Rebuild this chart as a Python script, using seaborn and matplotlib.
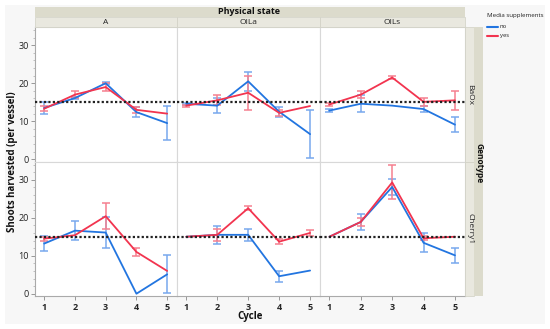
import matplotlib
matplotlib.use("Agg")
import matplotlib.pyplot as plt
from matplotlib.patches import Rectangle
from matplotlib.lines import Line2D
from matplotlib.ticker import MultipleLocator
import seaborn as sns
import pandas as pd
import numpy as np

sns.set_style("white")
plt.rcParams['font.family'] = ['Open Sans', 'DejaVu Sans']

cycles = [1, 2, 3, 4, 5]
states = ["A", "OILa", "OILs"]
genotypes = ["BaOx", "Cherry1"]
supplements = ["no", "yes"]
ref_value = 15

# BaOx
baox_A_no = [13.5, 16.1, 20.0, 12.4, 9.5]
baox_A_no_err = [1.5, 0.3, 0.3, 1.4, 4.5]
baox_A_yes = [13.3, 17.0, 19.0, 13.0, 12.0]
baox_A_yes_err = [0.6, 1.0, 1.0, 0.8, 0]
baox_OILa_no = [14.6, 14.1, 20.5, 12.5, 6.6]
baox_OILa_no_err = [0.3, 2.0, 2.5, 1.3, 6.4]
baox_OILa_yes = [14.1, 15.5, 17.5, 12.2, 14.0]
baox_OILa_yes_err = [0.3, 1.3, 4.5, 0.8, 0]
baox_OILs_no = [12.8, 14.6, 14.1, 13.2, 9.1]
baox_OILs_no_err = [0.5, 2.3, 0, 0.8, 2.0]
baox_OILs_yes = [14.4, 17.0, 21.5, 15.1, 15.5]
baox_OILs_yes_err = [0.5, 1.0, 0.5, 1.0, 2.5]
# Cherry1
cherry_A_no = [13.2, 16.6, 16.1, 0.0, 5.1]
cherry_A_no_err = [2.0, 2.5, 4.0, 0, 5.0]
cherry_A_yes = [14.5, 15.4, 20.4, 11.0, 6.0]
cherry_A_yes_err = [0.5, 0, 3.4, 1.0, 0]
cherry_OILa_no = [15.0, 15.5, 15.5, 4.6, 6.1]
cherry_OILa_no_err = [0, 2.4, 1.5, 1.5, 0]
cherry_OILa_yes = [15.0, 15.5, 22.5, 13.7, 16.0]
cherry_OILa_yes_err = [0, 1.5, 0.5, 0.7, 0.8]
cherry_OILs_no = [15.0, 18.9, 28.1, 13.4, 10.1]
cherry_OILs_no_err = [0, 2.1, 2.0, 2.5, 2.0]
cherry_OILs_yes = [15.0, 18.9, 29.3, 14.6, 15.0]
cherry_OILs_yes_err = [0, 1.0, 4.5, 0.5, 0]

series = {
    ("BaOx", "A", "no"): (baox_A_no, baox_A_no_err),
    ("BaOx", "A", "yes"): (baox_A_yes, baox_A_yes_err),
    ("BaOx", "OILa", "no"): (baox_OILa_no, baox_OILa_no_err),
    ("BaOx", "OILa", "yes"): (baox_OILa_yes, baox_OILa_yes_err),
    ("BaOx", "OILs", "no"): (baox_OILs_no, baox_OILs_no_err),
    ("BaOx", "OILs", "yes"): (baox_OILs_yes, baox_OILs_yes_err),
    ("Cherry1", "A", "no"): (cherry_A_no, cherry_A_no_err),
    ("Cherry1", "A", "yes"): (cherry_A_yes, cherry_A_yes_err),
    ("Cherry1", "OILa", "no"): (cherry_OILa_no, cherry_OILa_no_err),
    ("Cherry1", "OILa", "yes"): (cherry_OILa_yes, cherry_OILa_yes_err),
    ("Cherry1", "OILs", "no"): (cherry_OILs_no, cherry_OILs_no_err),
    ("Cherry1", "OILs", "yes"): (cherry_OILs_yes, cherry_OILs_yes_err),
}

rows = []
for (g, s, m), (vals, errs) in series.items():
    for c, v, e in zip(cycles, vals, errs):
        rows.append(dict(Genotype=g, State=s, Media=m, Cycle=c, Value=v, Err=e))
df = pd.DataFrame(rows)

line_col = {"no": "#2275e0", "yes": "#f2344f"}
err_col = {"no": "#78a8ee", "yes": "#f5808f"}

W, H = 550, 329
fig = plt.figure(figsize=(W / 100, H / 100), dpi=100)
fig.patch.set_facecolor("white")

def fx(x): return x / W
def fy(y): return 1 - y / H

# gray background
fig.patches.append(Rectangle((fx(5), fy(324)), fx(540), (319) / H,
                             transform=fig.transFigure, facecolor="#f7f7f7",
                             edgecolor="none", zorder=-10))

xl = [35, 177, 320, 465]
yt = [27, 161.5, 296]
ylim = (-0.6, 34.8)
xlim = (0.7, 5.32)
grid_c = "#d8d8d8"

for ri, g in enumerate(genotypes):
    for ci, s in enumerate(states):
        ax = fig.add_axes([fx(xl[ci]), fy(yt[ri + 1]), fx(xl[ci + 1] - xl[ci]),
                           (yt[ri + 1] - yt[ri]) / H])
        ax.set_facecolor("white")
        sub = df[(df.Genotype == g) & (df.State == s)]
        sns.lineplot(data=sub, x="Cycle", y="Value", hue="Media",
                     hue_order=supplements, palette=line_col, ax=ax,
                     linewidth=1.3, errorbar=None, legend=False, zorder=3)
        for m in supplements:
            d = sub[(sub.Media == m) & (sub.Err > 0)]
            ax.errorbar(d.Cycle, d.Value, yerr=d.Err, fmt="none",
                        ecolor=err_col[m], elinewidth=1.1, capsize=3.2,
                        capthick=1.1, zorder=2)
        ax.axhline(ref_value, color="#222222", linestyle=(0, (1, 1)),
                   linewidth=1.6, zorder=4)
        ax.set_xlim(*xlim)
        ax.set_ylim(*ylim)
        ax.set_xlabel("")
        ax.set_ylabel("")
        for sp in ax.spines.values():
            sp.set_color(grid_c)
            sp.set_linewidth(0.8)
        ax.set_xticks(cycles)
        ax.yaxis.set_major_locator(MultipleLocator(10))
        ax.yaxis.set_minor_locator(MultipleLocator(2))
        if ci == 0:
            ax.spines["left"].set_color("#aaaaaa")
            ax.tick_params(axis="y", which="major", length=3, width=0.6,
                           color="#888888", labelsize=6.5, pad=1.5,
                           labelcolor="#222222", left=True)
            ax.tick_params(axis="y", which="minor", length=1.6, width=0.5,
                           color="#aaaaaa", left=True)
        else:
            ax.tick_params(axis="y", which="both", left=False, labelleft=False)
        if ri == 1:
            ax.spines["bottom"].set_color("#aaaaaa")
            ax.tick_params(axis="x", length=3, width=0.6, color="#888888",
                           labelsize=6.5, pad=2, bottom=True)
            for lab in ax.get_xticklabels():
                lab.set_fontweight("bold")
        else:
            ax.tick_params(axis="x", bottom=False, labelbottom=False)

# top headers
fig.patches.append(Rectangle((fx(35), fy(17)), fx(430), 10 / H,
                             transform=fig.transFigure, facecolor="#dcdbcc",
                             edgecolor="none"))
fig.text(fx(249), fy(12), "Physical state", ha="center", va="center",
         fontsize=6.5, fontweight="bold", color="#111111")
for ci, s in enumerate(states):
    fig.patches.append(Rectangle((fx(xl[ci]), fy(27)), fx(xl[ci + 1] - xl[ci]),
                                 10 / H, transform=fig.transFigure,
                                 facecolor="#e9e8df", edgecolor="#d0d0c4",
                                 linewidth=0.5))
    fig.text(fx((xl[ci] + xl[ci + 1]) / 2), fy(22), s, ha="center",
             va="center", fontsize=6, color="#222222")

# right strips
for ri, g in enumerate(genotypes):
    fig.patches.append(Rectangle((fx(465), fy(yt[ri + 1])), fx(9),
                                 (yt[ri + 1] - yt[ri]) / H,
                                 transform=fig.transFigure,
                                 facecolor="#e9e8df", edgecolor="#d0d0c4",
                                 linewidth=0.5))
    fig.text(fx(470), fy((yt[ri] + yt[ri + 1]) / 2), g, rotation=-90,
             ha="center", va="center", fontsize=6, color="#222222")
fig.patches.append(Rectangle((fx(474), fy(296)), fx(9), (296 - 27) / H,
                             transform=fig.transFigure, facecolor="#dcdbcc",
                             edgecolor="none"))
fig.text(fx(479), fy(163), "Genotype", rotation=-90, ha="center", va="center",
         fontsize=6, fontweight="bold", color="#111111")

# axis labels
fig.text(fx(13), fy(162), "Shoots harvested (per vessel)", rotation=90,
         ha="center", va="center", fontsize=7, fontweight="bold",
         color="#111111")
fig.text(fx(250), fy(316), "Cycle", ha="center", va="center", fontsize=7,
         fontweight="bold", color="#111111")

# legend (drawn manually so it fits the narrow right margin)
leg_title = fig.text(fx(487), fy(15), "Media supplements", ha="left",
                     va="center", fontsize=6, color="#222222")
renderer = fig.canvas.get_renderer()
tw = leg_title.get_window_extent(renderer).width
if tw > 57:
    leg_title.set_fontsize(6 * 57 / tw)
for i, m in enumerate(supplements):
    yy = fy(27 + i * 9)
    fig.add_artist(Line2D([fx(487), fx(498)], [yy, yy], color=line_col[m],
                          linewidth=1.5, transform=fig.transFigure))
    fig.text(fx(500), yy, m, ha="left", va="center",
             fontsize=leg_title.get_fontsize() * 0.95, color="#222222")

fig.savefig("out.png", dpi=100, facecolor=fig.get_facecolor())
